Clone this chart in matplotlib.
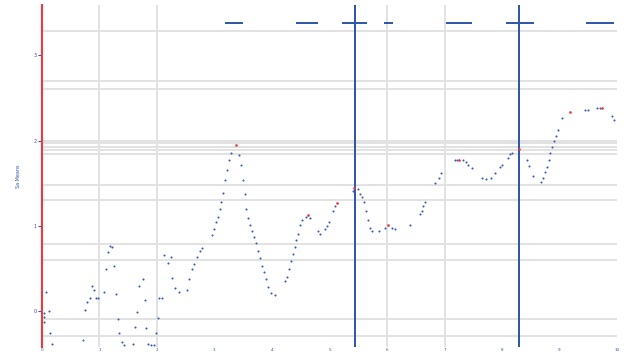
import matplotlib
matplotlib.use("Agg")
import matplotlib.pyplot as plt

# 점 데이터 (x: 0~10, y: 평균값)
pts_x = [0.03, 0.03, 0.03, 0.07, 0.12, 0.14, 0.17, 0.71, 0.75, 0.78, 0.83, 0.87, 0.90, 0.94, 0.97,
         1.08, 1.11, 1.15, 1.18, 1.22, 1.25, 1.29, 1.32, 1.34, 1.39, 1.43, 1.58, 1.62, 1.65, 1.69,
         1.76, 1.79, 1.81, 1.84, 1.90, 1.95, 1.98, 2.02, 2.03, 2.09, 2.12, 2.19, 2.24, 2.26, 2.31,
         2.38, 2.52, 2.56, 2.61, 2.64, 2.70, 2.75, 2.78, 2.96, 2.99, 3.03, 3.06, 3.10, 3.11, 3.15,
         3.18, 3.22, 3.25, 3.29, 3.43, 3.46, 3.50, 3.53, 3.55, 3.58, 3.62, 3.65, 3.69, 3.72, 3.76,
         3.79, 3.83, 3.86, 3.90, 3.93, 3.98, 4.05, 4.23, 4.26, 4.30, 4.33, 4.37, 4.40, 4.42, 4.45,
         4.49, 4.52, 4.59, 4.66, 4.80, 4.83, 4.92, 4.96, 4.99, 5.06, 5.10, 5.41, 5.50, 5.53, 5.57,
         5.60, 5.63, 5.67, 5.70, 5.74, 5.86, 5.97, 6.09, 6.14, 6.40, 6.57, 6.61, 6.63, 6.66, 6.83,
         6.90, 6.94, 7.18, 7.22, 7.32, 7.37, 7.41, 7.48, 7.65, 7.72, 7.81, 7.88, 7.97, 8.00, 8.10,
         8.14, 8.17, 8.43, 8.47, 8.54, 8.68, 8.71, 8.75, 8.78, 8.82, 8.83, 8.87, 8.90, 8.94, 8.97,
         9.04, 9.44, 9.50, 9.65, 9.70, 9.91, 9.95]
pts_y = [-0.02, -0.07, -0.13, 0.22, 0.00, -0.25, -0.38, -0.34, 0.01, 0.11, 0.16, 0.29, 0.25, 0.15, 0.16,
         0.22, 0.50, 0.69, 0.76, 0.75, 0.53, 0.20, -0.09, -0.25, -0.36, -0.40, -0.38, -0.19, -0.01, 0.30,
         0.38, 0.13, -0.20, -0.38, -0.40, -0.40, -0.25, -0.08, 0.16, 0.16, 0.66, 0.56, 0.64, 0.39, 0.27,
         0.23, 0.25, 0.38, 0.50, 0.55, 0.64, 0.70, 0.74, 0.89, 0.96, 1.04, 1.11, 1.20, 1.28, 1.39,
         1.54, 1.66, 1.77, 1.85, 1.83, 1.71, 1.54, 1.38, 1.20, 1.09, 1.01, 0.94, 0.87, 0.80, 0.70,
         0.62, 0.53, 0.46, 0.38, 0.28, 0.21, 0.19, 0.35, 0.40, 0.50, 0.59, 0.67, 0.75, 0.83, 0.91,
         1.01, 1.07, 1.11, 1.09, 0.94, 0.91, 0.96, 1.00, 1.04, 1.18, 1.23, 1.41, 1.43, 1.38, 1.34,
         1.28, 1.17, 1.07, 0.98, 0.94, 0.94, 0.98, 0.98, 0.96, 1.01, 1.14, 1.18, 1.23, 1.28, 1.50,
         1.56, 1.62, 1.77, 1.77, 1.77, 1.75, 1.72, 1.68, 1.56, 1.55, 1.56, 1.62, 1.69, 1.72, 1.80,
         1.84, 1.86, 1.77, 1.70, 1.59, 1.52, 1.56, 1.63, 1.69, 1.77, 1.85, 1.92, 1.99, 2.06, 2.13,
         2.26, 2.36, 2.36, 2.38, 2.38, 2.29, 2.24]

# 빨간 점 (국소 최대)
red_x = [3.37, 4.63, 5.13, 5.43, 6.02, 7.25, 8.30, 9.18, 9.74]
red_y = [1.95, 1.13, 1.27, 1.45, 1.01, 1.77, 1.90, 2.34, 2.38]

# 상단 짧은 구간
top_level = 3.375
top_start = [3.18, 4.42, 5.22, 5.95, 7.03, 8.07, 9.46]
top_end = [3.50, 4.80, 5.65, 6.10, 7.48, 8.56, 9.95]

# 세로 기준선
vlines_x = [5.44, 8.30]

# 격자선
hgrid = [3.29, 2.70, 2.60, 2.00, 1.97, 1.92, 1.89, 1.84, 1.48, 1.30, 0.79, 0.60, -0.09, -0.29]
vgrid = [1, 2, 6, 7]

x_ticks = list(range(11))
y_ticks = [0, 1, 2, 3]

blue = "#2b55aa"
dot_blue = "#3a5eae"

fig = plt.figure(figsize=(6.24, 3.59), dpi=100)
ax = fig.add_axes([0.0673, 0.0334, 0.9215, 0.9526])

for g in hgrid:
    ax.axhline(g, color="#e2e2e2", lw=1.4, zorder=0)
for g in vgrid:
    ax.axvline(g, color="#e2e2e2", lw=1.4, zorder=0)

for v in vlines_x:
    ax.axvline(v, color=blue, lw=1.4, zorder=2)

ax.hlines([top_level] * len(top_start), top_start, top_end, color=blue, lw=1.4, zorder=2)

ax.plot(pts_x, pts_y, "o", color=dot_blue, ms=1.5, mew=0, zorder=3)
ax.plot(red_x, red_y, "o", color="#e8343a", ms=1.9, mew=0, zorder=4)

ax.set_xlim(0, 10)
ax.set_ylim(-0.42, 3.59)

for s in ["top", "right", "bottom"]:
    ax.spines[s].set_visible(False)
ax.spines["left"].set_color("#f0393c")
ax.spines["left"].set_linewidth(1.5)

ax.set_xticks(x_ticks)
ax.set_yticks(y_ticks)
ax.tick_params(axis="x", length=0, pad=1, labelsize=3, labelcolor=blue)
ax.tick_params(axis="y", length=3, width=0.8, color=blue, pad=1, labelsize=3.5, labelcolor=blue)
ax.set_ylabel("Sa Means", fontsize=3.5, color=blue, labelpad=9)

fig.savefig("out.png", dpi=100)
